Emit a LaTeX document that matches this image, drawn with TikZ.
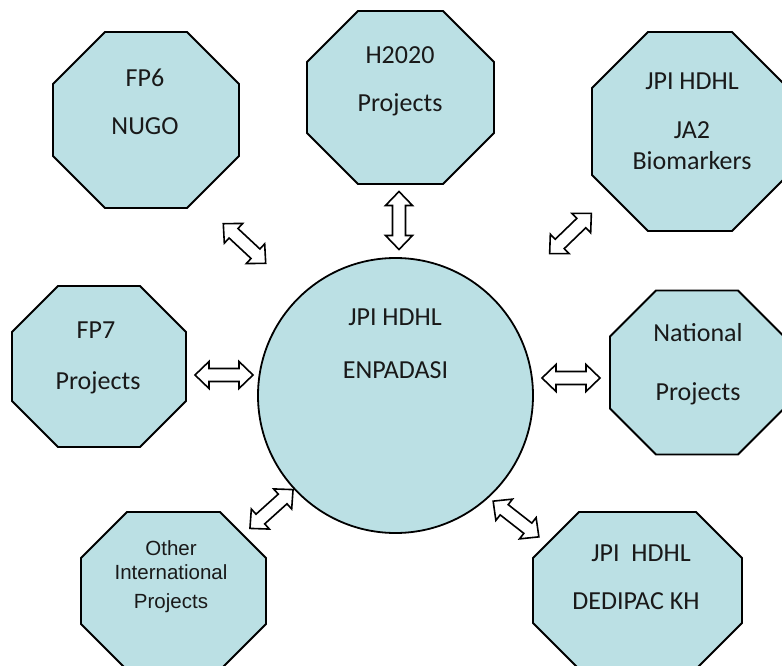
\documentclass[tikz,border=0pt]{standalone}
\usepackage{fontspec}
\setmainfont{Carlito}
\newfontfamily\arialf{Liberation Sans}
\definecolor{boxfill}{RGB}{187,224,228}
\newcommand\octo[6]{% name cx cy hw hh cut
  \draw[octbox] (#2-#4+#6,#3-#5) -- (#2+#4-#6,#3-#5) -- (#2+#4,#3-#5+#6) -- (#2+#4,#3+#5-#6)
    -- (#2+#4-#6,#3+#5) -- (#2-#4+#6,#3+#5) -- (#2-#4,#3+#5-#6) -- (#2-#4,#3-#5+#6) -- cycle;
  \coordinate (#1) at (#2,#3);}
\begin{document}
\begin{tikzpicture}[x=1pt,y=-1pt,
  octbox/.style={draw=black,line width=1.8pt,fill=boxfill,line join=miter},
  txt/.style={anchor=base,inner sep=0pt,text=black!90,font=\fontsize{26}{30}\selectfont},
  smalltxt/.style={anchor=base,inner sep=0pt,text=black!90,font=\arialf\fontsize{20.5}{23}\selectfont},
  arrowline/.style={draw=black,line width=1.6pt,fill=white,line join=miter},
  dbl/.pic={\path[arrowline] (-29,0) -- (-15,13.5) -- (-15,6.5) -- (15,6.5) -- (15,13.5) -- (29,0)
      -- (15,-13.5) -- (15,-6.5) -- (-15,-6.5) -- (-15,-13.5) -- cycle;}]
\useasboundingbox (0,0) rectangle (782,666);
\clip (0,0) rectangle (782,666);
% shapes
\octo{fp6}{146}{120}{93}{88}{52}
\octo{h2020}{400.5}{97.5}{93.5}{86.5}{51}
\octo{ja2}{690}{131.5}{98}{99.5}{56}
\octo{fp7}{99}{366.5}{87}{80.5}{46}
\octo{nat}{697}{372.5}{87}{82}{46}
\octo{oth}{173.5}{591}{92.5}{79}{46}
\octo{ded}{637.5}{590.5}{104.5}{78.5}{46}
\node[circle,draw=black,line width=1.8pt,fill=boxfill,minimum size=275pt,inner sep=0pt] (hub) at (395.5,395.5) {};
% texts
\node[txt] (fp6a) at (145,86.7) {FP6};
\node[txt] (fp6b) at (145,135) {NUGO};
\node[txt] (h2020a) at (400,63.3) {H2020};
\node[txt] (h2020b) at (400,111.7) {Projects};
\node[txt] (ja2a) at (692,90) {JPI HDHL};
\node[txt] (ja2b) at (692,139) {JA2};
\node[txt] (ja2c) at (692,169) {Biomarkers};
\node[txt] (fp7a) at (96,338) {FP7};
\node[txt] (fp7b) at (98,389) {Projects};
\node[txt] (nata) at (698,341) {National};
\node[txt] (natb) at (698,400) {Projects};
\node[txt] (huba) at (395,325) {JPI HDHL};
\node[txt] (hubb) at (395.5,378) {ENPADASI};
\node[smalltxt] (otha) at (171,555) {Other};
\node[smalltxt] (othb) at (171,579) {International};
\node[smalltxt] (othc) at (171,608) {Projects};
\node[txt] (deda) at (641,561) {JPI~~HDHL};
\node[txt] (dedb) at (636,609) {DEDIPAC KH};
% connectors (hollow double block arrows)
\pic[rotate=-43] at (244.5,243.5) {dbl};
\pic[rotate=90] at (399,220.5) {dbl};
\pic[rotate=44] at (570.5,233.5) {dbl};
\pic at (224,375) {dbl};
\pic at (571,378) {dbl};
\pic[rotate=42] at (271.5,509) {dbl};
\pic[rotate=-38] at (516,519) {dbl};
\end{tikzpicture}
\end{document}
